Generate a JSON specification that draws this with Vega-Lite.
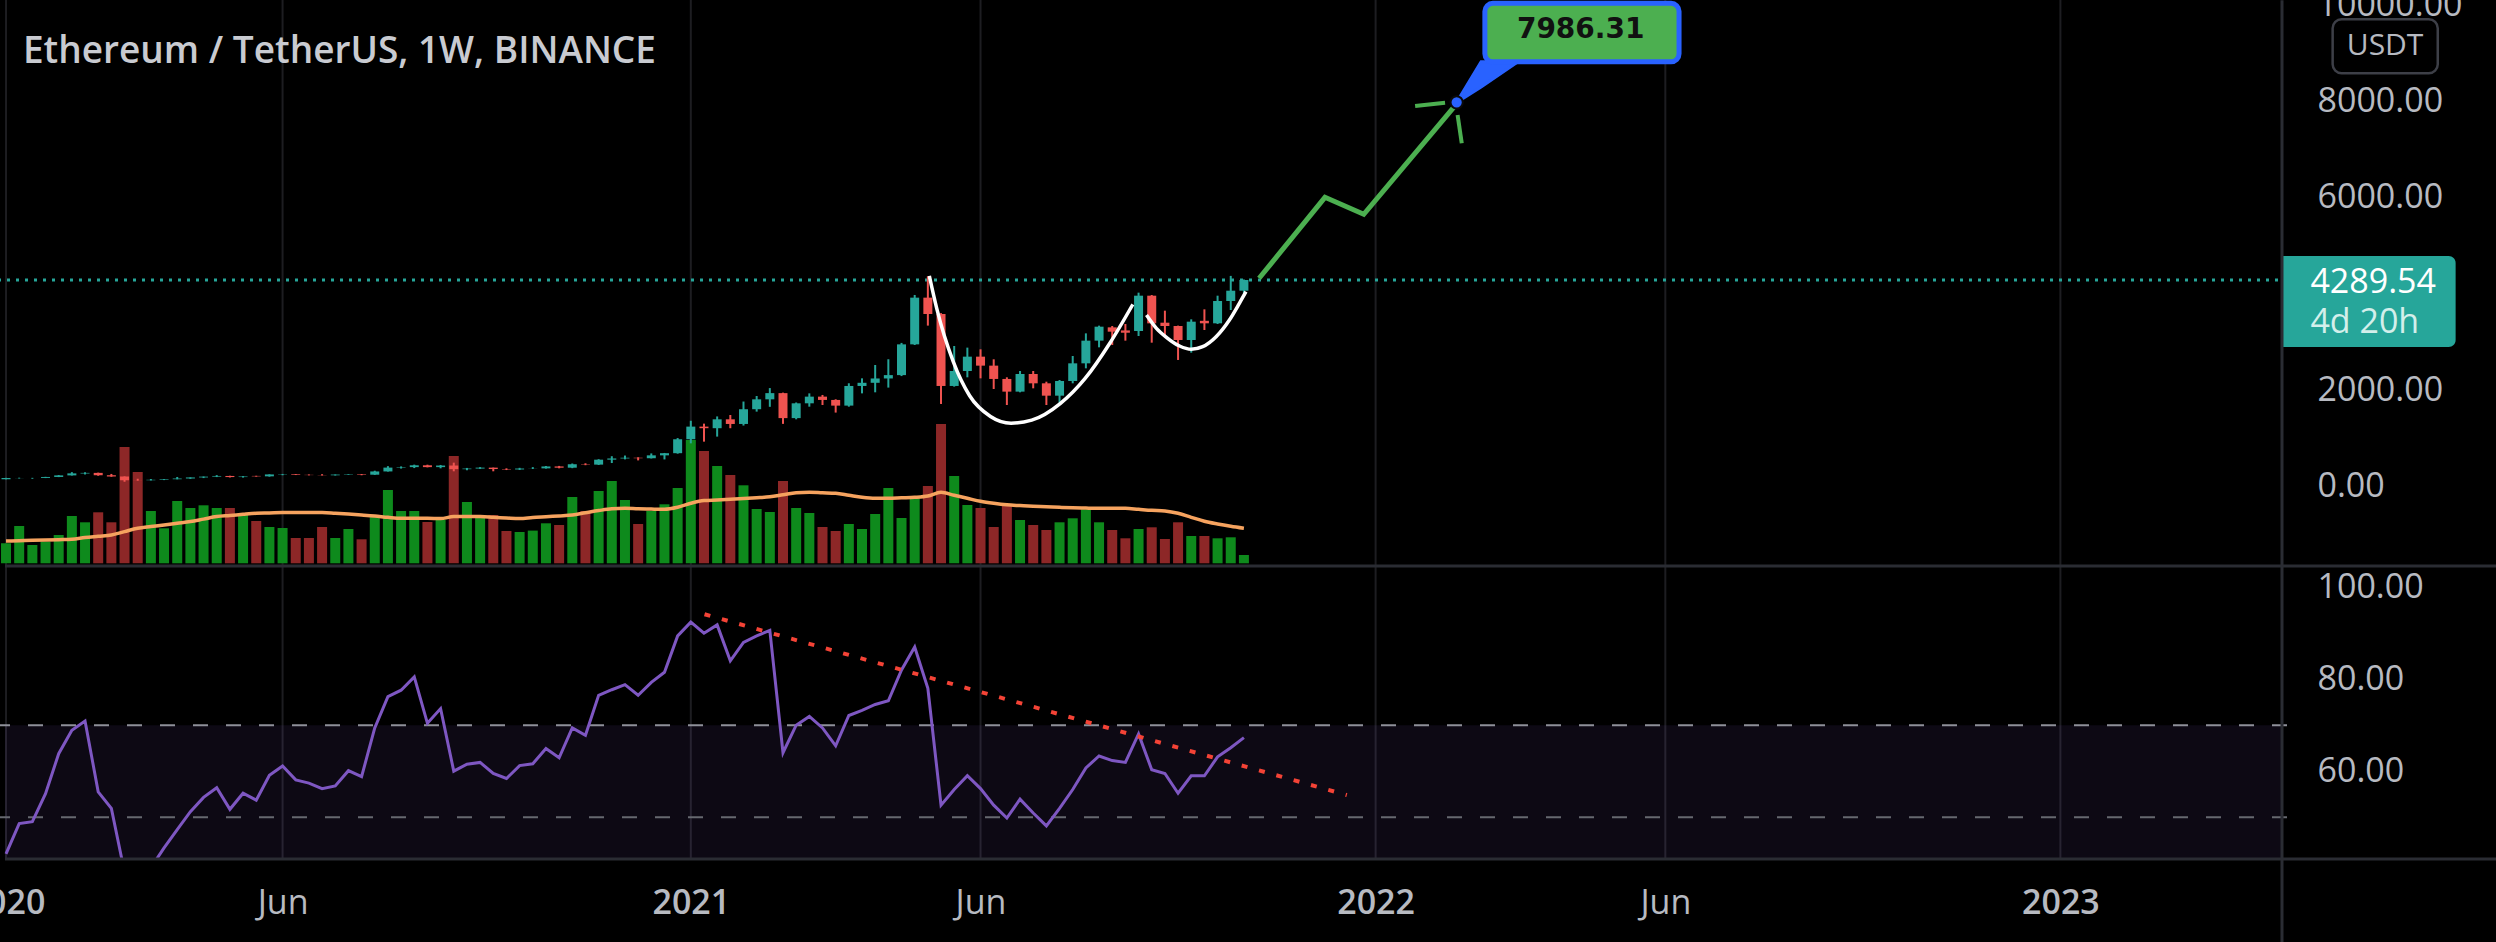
{
"$schema": "https://vega.github.io/schema/vega-lite/v6.json",
"width": 2287, "height": 860,
"autosize": {"type": "none"},
"padding": {"left": 0, "top": 0, "right": 209, "bottom": 82},
"background": "#000000",
"config": {
  "view": {"stroke": null},
  "axis": {"labelFont": "Open Sans", "labelFontSize": 34, "labelColor": "#b7bac1", "ticks": false, "tickSize": 0, "domain": false, "grid": true, "gridColor": "#1d1d21", "gridWidth": 2, "labelOverlap": false, "labelFlush": false}
},
"datasets": {
"xticks": [{"t":"2020-01-06"},{"t":"2020-06-01"},{"t":"2021-01-04"},{"t":"2021-06-07"},{"t":"2022-01-03"},{"t":"2022-06-06"},{"t":"2023-01-02"}],
"bars": [
{"d":"2020-01-06","o":143,"h":172,"l":141,"c":167,"v":20,"ma":22.3,"rsi":42},
{"d":"2020-01-13","o":166,"h":175,"l":157,"c":168,"v":37.3,"ma":22.6,"rsi":48.6},
{"d":"2020-01-20","o":167,"h":172,"l":152,"c":170,"v":18.3,"ma":23,"rsi":49},
{"d":"2020-01-27","o":170,"h":193,"l":167,"c":190,"v":21.7,"ma":23.3,"rsi":55.1},
{"d":"2020-02-03","o":190,"h":229,"l":187,"c":223,"v":28.3,"ma":23.6,"rsi":63.8},
{"d":"2020-02-10","o":223,"h":290,"l":220,"c":265,"v":47.3,"ma":24,"rsi":68.9},
{"d":"2020-02-17","o":262,"h":288,"l":242,"c":275,"v":41,"ma":25.7,"rsi":70.9},
{"d":"2020-02-24","o":275,"h":280,"l":215,"c":226,"v":51,"ma":27,"rsi":55.5},
{"d":"2020-03-02","o":226,"h":253,"l":194,"c":200,"v":41,"ma":28.3,"rsi":51.9},
{"d":"2020-03-09","o":200,"h":202,"l":90,"c":123,"v":116.3,"ma":31.7,"rsi":38},
{"d":"2020-03-16","o":124,"h":153,"l":111,"c":122,"v":91.3,"ma":35,"rsi":33},
{"d":"2020-03-23","o":122,"h":148,"l":117,"c":131,"v":52.3,"ma":36.7,"rsi":39},
{"d":"2020-03-30","o":131,"h":146,"l":125,"c":143,"v":35,"ma":38.3,"rsi":43.3},
{"d":"2020-04-06","o":143,"h":190,"l":141,"c":158,"v":62.3,"ma":40,"rsi":47.3},
{"d":"2020-04-13","o":158,"h":182,"l":150,"c":180,"v":55.3,"ma":41.7,"rsi":51.2},
{"d":"2020-04-20","o":180,"h":200,"l":167,"c":197,"v":58,"ma":44.2,"rsi":54.3},
{"d":"2020-04-27","o":197,"h":228,"l":188,"c":211,"v":55.3,"ma":46.7,"rsi":56.4},
{"d":"2020-05-04","o":211,"h":216,"l":180,"c":188,"v":55.3,"ma":47.8,"rsi":51.7},
{"d":"2020-05-11","o":188,"h":209,"l":177,"c":200,"v":48.3,"ma":49,"rsi":55.2},
{"d":"2020-05-18","o":212,"h":215,"l":196,"c":203,"v":42.3,"ma":50,"rsi":53.7},
{"d":"2020-05-25","o":203,"h":245,"l":197,"c":243,"v":36.3,"ma":50.3,"rsi":59.1},
{"d":"2020-06-01","o":240,"h":253,"l":226,"c":247,"v":35.3,"ma":50.7,"rsi":61.1},
{"d":"2020-06-08","o":247,"h":250,"l":230,"c":234,"v":25.3,"ma":50.7,"rsi":58.1},
{"d":"2020-06-15","o":234,"h":243,"l":223,"c":229,"v":25.3,"ma":50.7,"rsi":57.4},
{"d":"2020-06-22","o":229,"h":248,"l":220,"c":225,"v":36.3,"ma":50.7,"rsi":56.2},
{"d":"2020-06-29","o":225,"h":242,"l":220,"c":240,"v":25.3,"ma":50,"rsi":56.8},
{"d":"2020-07-06","o":240,"h":250,"l":235,"c":248,"v":34.3,"ma":49.2,"rsi":60.1},
{"d":"2020-07-13","o":248,"h":252,"l":226,"c":237,"v":24,"ma":48.3,"rsi":58.8},
{"d":"2020-07-20","o":237,"h":320,"l":233,"c":305,"v":48.3,"ma":47.3,"rsi":69.4},
{"d":"2020-07-27","o":305,"h":415,"l":303,"c":385,"v":73.3,"ma":46,"rsi":76.2},
{"d":"2020-08-03","o":385,"h":410,"l":365,"c":395,"v":52.3,"ma":45,"rsi":77.6},
{"d":"2020-08-10","o":395,"h":446,"l":375,"c":433,"v":52.3,"ma":45,"rsi":80.5},
{"d":"2020-08-17","o":433,"h":445,"l":390,"c":395,"v":41.3,"ma":45,"rsi":70.4},
{"d":"2020-08-24","o":395,"h":440,"l":370,"c":428,"v":43.3,"ma":44.7,"rsi":73.6},
{"d":"2020-08-31","o":428,"h":488,"l":308,"c":352,"v":107.3,"ma":46.7,"rsi":60},
{"d":"2020-09-07","o":352,"h":378,"l":330,"c":365,"v":61.3,"ma":46.7,"rsi":61.5},
{"d":"2020-09-14","o":365,"h":395,"l":357,"c":384,"v":48.3,"ma":46.7,"rsi":61.9},
{"d":"2020-09-21","o":384,"h":385,"l":308,"c":355,"v":48.3,"ma":46,"rsi":59.5},
{"d":"2020-09-28","o":355,"h":370,"l":334,"c":346,"v":32.3,"ma":45.3,"rsi":58.4},
{"d":"2020-10-05","o":346,"h":380,"l":335,"c":366,"v":31.3,"ma":44.7,"rsi":61.2},
{"d":"2020-10-12","o":366,"h":395,"l":356,"c":369,"v":32.7,"ma":45.8,"rsi":61.6},
{"d":"2020-10-19","o":369,"h":418,"l":365,"c":409,"v":40,"ma":46.6,"rsi":64.9},
{"d":"2020-10-26","o":409,"h":420,"l":370,"c":383,"v":38.3,"ma":47.4,"rsi":62.9},
{"d":"2020-11-02","o":383,"h":470,"l":373,"c":455,"v":66.3,"ma":48.3,"rsi":69.4},
{"d":"2020-11-09","o":455,"h":475,"l":435,"c":447,"v":52.3,"ma":50.5,"rsi":67.8},
{"d":"2020-11-16","o":447,"h":560,"l":440,"c":550,"v":72.3,"ma":52.7,"rsi":76.5},
{"d":"2020-11-23","o":550,"h":622,"l":480,"c":575,"v":82.3,"ma":54.5,"rsi":77.7},
{"d":"2020-11-30","o":575,"h":636,"l":556,"c":590,"v":63.3,"ma":55,"rsi":78.8},
{"d":"2020-12-07","o":590,"h":600,"l":535,"c":580,"v":39.3,"ma":54.5,"rsi":76.5},
{"d":"2020-12-14","o":580,"h":680,"l":575,"c":640,"v":52.3,"ma":54.2,"rsi":79.3},
{"d":"2020-12-21","o":640,"h":690,"l":555,"c":685,"v":59,"ma":54,"rsi":81.5},
{"d":"2020-12-28","o":685,"h":1000,"l":675,"c":975,"v":75.3,"ma":56,"rsi":89.4},
{"d":"2021-01-04","o":975,"h":1360,"l":890,"c":1238,"v":123.3,"ma":60,"rsi":92.4},
{"d":"2021-01-11","o":1238,"h":1300,"l":925,"c":1205,"v":112.3,"ma":62.7,"rsi":90},
{"d":"2021-01-18","o":1205,"h":1450,"l":1030,"c":1390,"v":97.3,"ma":63.3,"rsi":91.8},
{"d":"2021-01-25","o":1390,"h":1480,"l":1205,"c":1293,"v":88.3,"ma":64,"rsi":84},
{"d":"2021-02-01","o":1293,"h":1760,"l":1260,"c":1600,"v":78,"ma":64.7,"rsi":88},
{"d":"2021-02-08","o":1600,"h":1875,"l":1550,"c":1806,"v":54.3,"ma":65.5,"rsi":89.4},
{"d":"2021-02-15","o":1806,"h":2040,"l":1650,"c":1935,"v":51.3,"ma":66.5,"rsi":90.6},
{"d":"2021-02-22","o":1935,"h":1945,"l":1295,"c":1415,"v":82.3,"ma":68.5,"rsi":64},
{"d":"2021-03-01","o":1415,"h":1740,"l":1390,"c":1723,"v":55.3,"ma":70.5,"rsi":70},
{"d":"2021-03-08","o":1723,"h":1930,"l":1653,"c":1862,"v":50.3,"ma":71,"rsi":71.9},
{"d":"2021-03-15","o":1862,"h":1897,"l":1688,"c":1793,"v":36.3,"ma":70.5,"rsi":69.4},
{"d":"2021-03-22","o":1793,"h":1807,"l":1530,"c":1675,"v":32.3,"ma":70,"rsi":65.5},
{"d":"2021-03-29","o":1675,"h":2140,"l":1653,"c":2084,"v":39.3,"ma":68,"rsi":72.1},
{"d":"2021-04-05","o":2084,"h":2243,"l":1930,"c":2150,"v":34.3,"ma":66,"rsi":73.2},
{"d":"2021-04-12","o":2150,"h":2520,"l":1952,"c":2240,"v":49.3,"ma":65,"rsi":74.5},
{"d":"2021-04-19","o":2240,"h":2640,"l":2050,"c":2310,"v":75.3,"ma":65,"rsi":75.3},
{"d":"2021-04-26","o":2310,"h":2980,"l":2290,"c":2950,"v":45.3,"ma":65.5,"rsi":82},
{"d":"2021-05-03","o":2950,"h":3978,"l":2937,"c":3922,"v":65,"ma":66,"rsi":87},
{"d":"2021-05-10","o":3922,"h":4365,"l":3340,"c":3582,"v":77.3,"ma":67.3,"rsi":78},
{"d":"2021-05-17","o":3582,"h":3600,"l":1709,"c":2084,"v":139.3,"ma":71,"rsi":52.6},
{"d":"2021-05-24","o":2084,"h":2916,"l":2070,"c":2396,"v":87.3,"ma":68,"rsi":56},
{"d":"2021-05-31","o":2396,"h":2882,"l":2264,"c":2694,"v":58.3,"ma":65,"rsi":59},
{"d":"2021-06-07","o":2694,"h":2847,"l":2243,"c":2507,"v":55.3,"ma":62,"rsi":56.2},
{"d":"2021-06-14","o":2507,"h":2639,"l":2021,"c":2230,"v":36.3,"ma":60,"rsi":52.6},
{"d":"2021-06-21","o":2230,"h":2264,"l":1688,"c":1966,"v":57.3,"ma":58.5,"rsi":49.8},
{"d":"2021-06-28","o":1966,"h":2396,"l":1952,"c":2333,"v":43.3,"ma":57.7,"rsi":53.9},
{"d":"2021-07-05","o":2333,"h":2396,"l":2035,"c":2139,"v":38.3,"ma":57,"rsi":50.9},
{"d":"2021-07-12","o":2139,"h":2173,"l":1688,"c":1882,"v":33.3,"ma":56.5,"rsi":48.1},
{"d":"2021-07-19","o":1882,"h":2208,"l":1688,"c":2187,"v":41,"ma":56,"rsi":51.9},
{"d":"2021-07-26","o":2187,"h":2708,"l":2139,"c":2555,"v":45,"ma":55.5,"rsi":56},
{"d":"2021-08-02","o":2555,"h":3179,"l":2451,"c":3027,"v":54,"ma":55.2,"rsi":60.7},
{"d":"2021-08-09","o":3027,"h":3339,"l":2888,"c":3318,"v":41,"ma":55,"rsi":63.3},
{"d":"2021-08-16","o":3304,"h":3332,"l":2937,"c":3214,"v":33.3,"ma":55,"rsi":62.3},
{"d":"2021-08-23","o":3240,"h":3374,"l":3027,"c":3192,"v":25,"ma":55,"rsi":61.9},
{"d":"2021-08-30","o":3228,"h":4026,"l":3124,"c":3963,"v":34.3,"ma":54,"rsi":68.1},
{"d":"2021-09-06","o":3963,"h":3977,"l":2985,"c":3387,"v":36,"ma":53,"rsi":60.3},
{"d":"2021-09-13","o":3401,"h":3651,"l":3096,"c":3332,"v":24.3,"ma":52.3,"rsi":59.5},
{"d":"2021-09-20","o":3332,"h":3340,"l":2625,"c":3041,"v":41,"ma":50,"rsi":55.2},
{"d":"2021-09-27","o":3041,"h":3471,"l":2777,"c":3422,"v":27.3,"ma":46,"rsi":59},
{"d":"2021-10-04","o":3440,"h":3679,"l":3249,"c":3388,"v":27.3,"ma":42,"rsi":59},
{"d":"2021-10-11","o":3388,"h":3963,"l":3374,"c":3852,"v":25,"ma":39.3,"rsi":63.1},
{"d":"2021-10-18","o":3852,"h":4375,"l":3665,"c":4067,"v":26,"ma":37,"rsi":65.1},
{"d":"2021-10-25","o":4067,"h":4300,"l":4005,"c":4289.54,"v":8.3,"ma":35,"rsi":67.3}
],
"cup": [
{"t":"2021-05-10T19:00:00Z","p":4373,"seg":"cup"},
{"t":"2021-05-14T17:00:00Z","p":3700,"seg":"cup"},
{"t":"2021-05-23T12:00:00Z","p":2590,"seg":"cup"},
{"t":"2021-06-01T05:00:00Z","p":1880,"seg":"cup"},
{"t":"2021-06-12T07:00:00Z","p":1450,"seg":"cup"},
{"t":"2021-06-23T05:00:00Z","p":1310,"seg":"cup"},
{"t":"2021-07-04T05:00:00Z","p":1372,"seg":"cup"},
{"t":"2021-07-19T12:00:00Z","p":1721,"seg":"cup"},
{"t":"2021-08-01T17:00:00Z","p":2245,"seg":"cup"},
{"t":"2021-08-14T19:00:00Z","p":2978,"seg":"cup"},
{"t":"2021-08-26T22:00:00Z","p":3780,"seg":"cup"},
{"t":"2021-09-03T05:00:00Z","p":3561,"seg":"handle"},
{"t":"2021-09-08T12:00:00Z","p":3284,"seg":"handle"},
{"t":"2021-09-13T19:00:00Z","p":3097,"seg":"handle"},
{"t":"2021-09-20T19:00:00Z","p":2916,"seg":"handle"},
{"t":"2021-09-27T00:00:00Z","p":2847,"seg":"handle"},
{"t":"2021-10-03T02:00:00Z","p":2901,"seg":"handle"},
{"t":"2021-10-10T05:00:00Z","p":3109,"seg":"handle"},
{"t":"2021-10-17T07:00:00Z","p":3457,"seg":"handle"},
{"t":"2021-10-22T14:00:00Z","p":3804,"seg":"handle"},
{"t":"2021-10-26T02:00:00Z","p":4046,"seg":"handle"}
],
"proj": [
{"t":"2021-11-02T02:00:00Z","p":4325},
{"t":"2021-12-07T02:00:00Z","p":6010},
{"t":"2021-12-27T17:00:00Z","p":5657},
{"t":"2022-02-14T12:00:00Z","p":7930}
],
"ticks": [
{"t":"2022-01-24T00:00:00Z","p":7910,"t2":"2022-02-08T22:00:00Z","p2":7979},
{"t":"2022-02-15T14:00:00Z","p":7723,"t2":"2022-02-17T19:00:00Z","p2":7134}
],
"tail": [
{"t":"2022-02-15T02:00:00Z","p":7986,"p2":7986},
{"t":"2022-02-28T02:00:00Z","p":8308,"p2":8832},
{"t":"2022-03-19T17:00:00Z","p":8832,"p2":8832}
]
},
"resolve": {"scale": {"y": "independent"}},
"layer": [
{
 "layer": [
  {"data": {"name": "xticks"},
   "mark": {"type": "rule", "color": "#1d1d21", "strokeWidth": 2},
   "encoding": {
    "x": {"field": "t", "type": "temporal",
      "scale": {"type": "utc", "nice": false, "domain": [{"year":2020,"month":1,"date":5,"hours":11,"utc":true},{"year":2023,"month":4,"date":29,"hours":19,"utc":true}]},
      "axis": {"title": null, "grid": false, "values": [{"year":2020,"month":1,"date":6,"utc":true},{"year":2020,"month":6,"date":1,"utc":true},{"year":2021,"month":1,"date":4,"utc":true},{"year":2021,"month":6,"date":7,"utc":true},{"year":2022,"month":1,"date":3,"utc":true},{"year":2022,"month":6,"date":6,"utc":true},{"year":2023,"month":1,"date":2,"utc":true}],
        "labelExpr": "utcFormat(datum.value, '%m') == '01' ? utcFormat(datum.value, '%Y') : utcFormat(datum.value, '%b')",
        "labelFontWeight": {"condition": {"test": "utcFormat(datum.value, '%m') == '01'", "value": 600}, "value": "normal"},
        "labelPadding": 43, "labelBaseline": "middle", "labelAlign": "center"}}
   }},
  {"data": {"name": "bars"},
   "mark": {"type": "bar", "size": 10},
   "encoding": {
    "x": {"field": "d", "type": "temporal"},
    "y": {"field": "v", "type": "quantitative", "scale": {"domain": [0, 300], "range": [563.3, 263.3], "nice": false, "zero": false}, "axis": null},
    "color": {"condition": {"test": "datum.c >= datum.o", "value": "#0e8a1c"}, "value": "#8d2727"}
   }},
  {"data": {"name": "bars"},
   "mark": {"type": "line", "color": "#f6a35f", "strokeWidth": 3.5, "interpolate": "monotone"},
   "encoding": {"x": {"field": "d", "type": "temporal"}, "y": {"field": "ma", "type": "quantitative"}}}
 ]
},
{
 "layer": [
  {"data": {"values": [{}]},
   "mark": {"type": "rule", "color": "#26a69a", "strokeWidth": 3, "strokeDash": [3, 6]},
   "encoding": {"y": {"datum": 4289.54, "type": "quantitative"}}},
  {"data": {"name": "bars"},
   "mark": {"type": "rule", "strokeWidth": 2},
   "encoding": {
    "x": {"field": "d", "type": "temporal"},
    "y": {"field": "l", "type": "quantitative", "scale": {"domain": [-1663, 10117], "range": [566, 0], "nice": false, "zero": false},
      "axis": {"orient": "right", "title": null, "values": [0, 2000, 4000, 6000, 8000, 10000], "labelExpr": "datum.value == 4000 ? '' : format(datum.value, '.2f')", "labelPadding": 30, "labelAlign": "left", "labelBaseline": "middle"}},
    "y2": {"field": "h"},
    "color": {"condition": {"test": "datum.c >= datum.o", "value": "#26a69a"}, "value": "#ef5350"}
   }},
  {"data": {"name": "bars"},
   "mark": {"type": "bar", "size": 9},
   "encoding": {
    "x": {"field": "d", "type": "temporal"},
    "y": {"field": "o", "type": "quantitative"},
    "y2": {"field": "c"},
    "color": {"condition": {"test": "datum.c >= datum.o", "value": "#26a69a"}, "value": "#ef5350"}
   }},
  {"data": {"name": "cup"},
   "mark": {"type": "line", "color": "#ffffff", "strokeWidth": 3.5, "interpolate": "monotone"},
   "encoding": {"x": {"field": "t", "type": "temporal"}, "y": {"field": "p", "type": "quantitative"}, "detail": {"field": "seg"}}},
  {"data": {"name": "proj"},
   "mark": {"type": "line", "color": "#4caf50", "strokeWidth": 5},
   "encoding": {"x": {"field": "t", "type": "temporal"}, "y": {"field": "p", "type": "quantitative"}}},
  {"data": {"name": "ticks"},
   "mark": {"type": "rule", "color": "#4caf50", "strokeWidth": 4},
   "encoding": {"x": {"field": "t", "type": "temporal"}, "x2": {"field": "t2"}, "y": {"field": "p", "type": "quantitative"}, "y2": {"field": "p2"}}},
  {"data": {"name": "tail"},
   "mark": {"type": "area", "color": "#2962ff", "stroke": "#2962ff", "strokeWidth": 3},
   "encoding": {"x": {"field": "t", "type": "temporal"}, "y": {"field": "p", "type": "quantitative"}, "y2": {"field": "p2"}}},
  {"data": {"values": [{}]},
   "mark": {"type": "rect", "fill": "#4caf50", "stroke": "#2962ff", "strokeWidth": 5, "cornerRadius": 8},
   "encoding": {
    "x": {"datum": {"year":2022,"month":3,"date":2,"hours":2,"utc":true}, "type": "temporal"},
    "x2": {"datum": {"year":2022,"month":6,"date":13,"hours":7,"utc":true}},
    "y": {"datum": 10048, "type": "quantitative"},
    "y2": {"datum": 8832}
   }},
  {"data": {"values": [{}]},
   "mark": {"type": "text", "text": "7986.31", "font": "DejaVu Sans", "fontWeight": "bold", "fontSize": 28, "color": "#111111", "align": "center", "baseline": "middle"},
   "encoding": {
    "x": {"datum": {"year":2022,"month":4,"date":22,"utc":true}, "type": "temporal"},
    "y": {"datum": 9503, "type": "quantitative"}
   }},
  {"data": {"values": [{}]},
   "mark": {"type": "point", "shape": "circle", "filled": true, "size": 150, "fill": "#2962ff", "stroke": "#0a0a0a", "strokeWidth": 2, "opacity": 1},
   "encoding": {
    "x": {"datum": {"year":2022,"month":2,"date":15,"hours":2,"utc":true}, "type": "temporal"},
    "y": {"datum": 7986.31, "type": "quantitative"}
   }},
  {"data": {"values": [{}]},
   "mark": {"type": "text", "text": "Ethereum / TetherUS, 1W, BINANCE", "font": "Open Sans", "fontWeight": 600, "fontSize": 37, "color": "#c9cbd1", "align": "left", "baseline": "alphabetic"},
   "encoding": {
    "x": {"datum": {"year":2020,"month":1,"date":15,"utc":true}, "type": "temporal"},
    "y": {"datum": 8806, "type": "quantitative"}
   }},
  {"data": {"values": [{}]},
   "mark": {"type": "rect", "fill": "#26a69a", "cornerRadiusTopRight": 7, "cornerRadiusBottomRight": 7, "clip": false},
   "encoding": {
    "x": {"datum": {"year":2023,"month":4,"date":29,"hours":19,"utc":true}, "type": "temporal"},
    "x2": {"datum": {"year":2023,"month":7,"date":31,"hours":2,"utc":true}},
    "y": {"datum": 4789, "type": "quantitative"},
    "y2": {"datum": 2895}
   }},
  {"data": {"values": [{}]},
   "mark": {"type": "text", "text": "4289.54", "font": "Open Sans", "fontSize": 34, "color": "#ffffff", "align": "left", "baseline": "middle", "clip": false},
   "encoding": {
    "x": {"datum": {"year":2023,"month":5,"date":14,"hours":21,"utc":true}, "type": "temporal"},
    "y": {"datum": 4233, "type": "quantitative"}
   }},
  {"data": {"values": [{}]},
   "mark": {"type": "text", "text": "4d 20h", "font": "Open Sans", "fontSize": 34, "color": "#d3efeb", "align": "left", "baseline": "middle", "clip": false},
   "encoding": {
    "x": {"datum": {"year":2023,"month":5,"date":14,"hours":21,"utc":true}, "type": "temporal"},
    "y": {"datum": 3401, "type": "quantitative"}
   }},
  {"data": {"values": [{}]},
   "mark": {"type": "rect", "fill": "#000000", "stroke": "#3d3f47", "strokeWidth": 2.5, "cornerRadius": 9, "clip": false},
   "encoding": {
    "x": {"datum": {"year":2023,"month":5,"date":26,"hours":17,"utc":true}, "type": "temporal"},
    "x2": {"datum": {"year":2023,"month":7,"date":21,"hours":14,"utc":true}},
    "y": {"datum": 9715, "type": "quantitative"},
    "y2": {"datum": 8591}
   }},
  {"data": {"values": [{}]},
   "mark": {"type": "text", "text": "USDT", "font": "Open Sans", "fontSize": 30, "color": "#b7bac1", "align": "center", "baseline": "middle", "clip": false},
   "encoding": {
    "x": {"datum": {"year":2023,"month":6,"date":23,"hours":14,"utc":true}, "type": "temporal"},
    "y": {"datum": 9159, "type": "quantitative"}
   }}
 ]
},
{
 "layer": [
  {"data": {"values": [{}]},
   "mark": {"type": "rect", "color": "#7e57c2", "opacity": 0.1, "clip": true},
   "encoding": {
    "x": {"datum": {"year":2020,"month":1,"date":5,"hours":11,"utc":true}, "type": "temporal"},
    "x2": {"datum": {"year":2023,"month":4,"date":29,"hours":19,"utc":true}},
    "y": {"datum": 70, "type": "quantitative", "scale": {"domain": [40.9, 104.6], "range": [859, 566], "nice": false, "zero": false},
      "axis": {"orient": "right", "title": null, "values": [60, 80, 100], "format": ".2f", "labelPadding": 30, "labelAlign": "left", "labelBaseline": "middle"}},
    "y2": {"datum": 30}
   }},
  {"data": {"values": [{}]},
   "mark": {"type": "rule", "color": "#8e9099", "strokeWidth": 2, "strokeDash": [15, 18]},
   "encoding": {"y": {"datum": 70, "type": "quantitative"}}},
  {"data": {"values": [{}]},
   "mark": {"type": "rule", "color": "#66686f", "strokeWidth": 2, "strokeDash": [15, 18]},
   "encoding": {"y": {"datum": 50, "type": "quantitative"}}},
  {"data": {"name": "bars"},
   "mark": {"type": "line", "color": "#7e57c2", "strokeWidth": 3, "clip": true},
   "encoding": {"x": {"field": "d", "type": "temporal"}, "y": {"field": "rsi", "type": "quantitative"}}},
  {"data": {"values": [{}]},
   "mark": {"type": "rule", "color": "#f44336", "strokeWidth": 4, "strokeDash": [6, 12]},
   "encoding": {
    "x": {"datum": {"year":2021,"month":1,"date":11,"hours":7,"utc":true}, "type": "temporal"},
    "x2": {"datum": {"year":2021,"month":12,"date":18,"hours":17,"utc":true}},
    "y": {"datum": 94.1, "type": "quantitative"},
    "y2": {"datum": 54.8}
   }},
  {"data": {"values": [{"yv": 104.6}, {"yv": 40.9}]},
   "mark": {"type": "rule", "color": "#2a2c33", "strokeWidth": 3, "clip": false},
   "encoding": {
    "x": {"datum": {"year":2020,"month":1,"date":5,"hours":11,"utc":true}, "type": "temporal"},
    "x2": {"datum": {"year":2023,"month":8,"date":25,"utc":true}},
    "y": {"field": "yv", "type": "quantitative"}
   }},
  {"data": {"values": [{}]},
   "mark": {"type": "rule", "color": "#2a2c33", "strokeWidth": 3, "clip": false},
   "encoding": {
    "x": {"datum": {"year":2023,"month":4,"date":29,"hours":19,"utc":true}, "type": "temporal"},
    "y": {"datum": 227.6, "type": "quantitative"},
    "y2": {"datum": 22.8}
   }}
 ]
}
]
}
